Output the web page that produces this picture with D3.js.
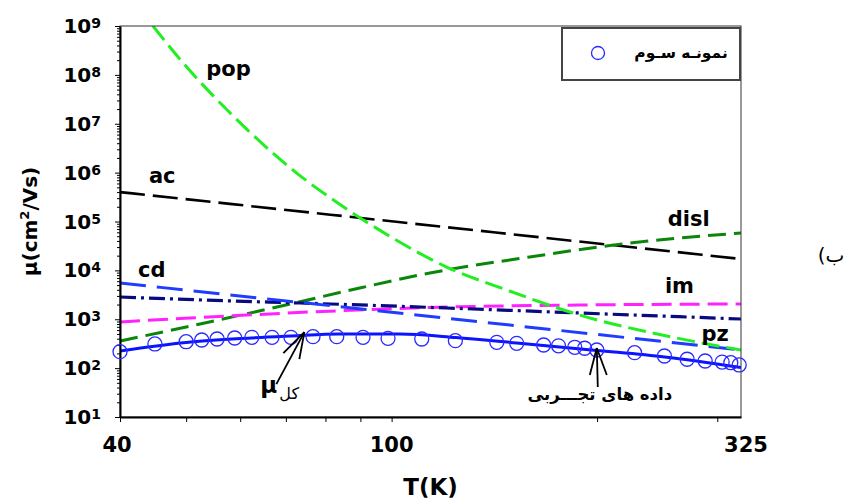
<!DOCTYPE html>
<html>
<head>
<meta charset="utf-8">
<script src="https://cdn.jsdelivr.net/npm/d3@7"></script>
<style>
body { margin: 0; background: #fff; }
svg { display: block; }
text { font-family: "DejaVu Sans", sans-serif; }
</style>
</head>
<body>
<script>
// mobility vs temperature, one series per scattering mechanism (cm^2/Vs)
var popT  = [44.7, 49.8, 58.0, 72.6, 83.4, 100.4, 120.4, 147.5, 188.6, 261.6, 325]
var popMu = [1e9, 1.59e8, 1.66e7, 9.8e5, 2.39e5, 4.59e4, 1.17e4, 3960, 1220, 413, 235]

var acT  = [40, 100, 325]
var acMu = [4.0e5, 1.01e5, 1.71e4]

var dislT  = [40, 52.4, 70, 89.8, 113.8, 159.4, 223.3, 325]
var dislMu = [359, 800, 1958, 4355, 8836, 18800, 36300, 58200]

var cdT  = [40, 100, 325]
var cdMu = [5520, 1387, 235]

var pzT  = [40, 58.6, 73.4, 120.4, 188.6, 325]
var pzMu = [2851, 2361, 2150, 1700, 1343, 1012]

var imT  = [40, 50.6, 63.5, 75.9, 113.8, 188.6, 325]
var imMu = [879, 1062, 1250, 1406, 1738, 1958, 2050]

var totT  = [40, 50, 60.2, 71.2, 83.9, 102.8, 124.2, 152.5, 199.8, 251.2, 325]
var totMu = [224, 334, 404, 454, 499, 499, 424, 327, 230, 169, 103]

// measured points (third sample)
var expT  = [40, 45, 50, 52.7, 55.5, 58.9, 62.4, 66.8, 71.2, 76.7, 83.1, 90.8, 98.8, 110.7, 124, 142.6, 152.5, 167, 175.6, 185.5, 191.8, 199.8, 227, 251, 271, 288, 305, 314, 323]
var expMu = [217, 312, 347, 376, 394, 413, 427, 427, 427, 440, 440, 427, 407, 394, 364, 337, 322, 297, 286, 267, 255, 235, 207, 177, 152, 140, 133, 129, 116]

// curve names and where they sit (T, mu)
var curveNames = ['pop', 'ac', 'cd', 'disl', 'im', 'pz']
var nameT  = [53.5, 44.1, 42.5, 253.9, 251.4, 284.4]
var nameMu = [9.5e7, 6.1e5, 7310, 8.09e4, 3440, 359]

var xTicks = [40, 50, 60, 70, 80, 90, 100, 200, 300]
var xLabels = [40, 100, 325]
var yExp = [1, 2, 3, 4, 5, 6, 7, 8, 9]

var W = 853, H = 502
var pL = 120, pR = 741, pT = 26, pB = 417

var x = d3.scaleLog().domain([40, 325]).range([pL, pR])
var y = d3.scaleLog().domain([10, 1e9]).range([pB, pT])

var svg = d3.select('body').append('svg').attr('width', W).attr('height', H)

var zip = (a, b) => a.map((v, i) => [v, b[i]])
var line = d3.line().x(d => x(d[0])).y(d => y(d[1])).curve(d3.curveMonotoneX)

var curves = [
	{pts: zip(acT, acMu),     color: '#000000', dash: '25,8',        w: 2.6},
	{pts: zip(dislT, dislMu), color: '#0a870a', dash: '18,8',        w: 3},
	{pts: zip(imT, imMu),     color: '#ff22ff', dash: '20,8',        w: 3},
	{pts: zip(pzT, pzMu),     color: '#0a0a80', dash: '16,5,3,5',    w: 3.2},
	{pts: zip(cdT, cdMu),     color: '#1f3cff', dash: '26,11',       w: 3},
	{pts: zip(popT, popMu),   color: '#22ee22', dash: '18,7',        w: 3},
	{pts: zip(totT, totMu),   color: '#0a14ff', dash: null,          w: 3}
]

svg.append('clipPath').attr('id', 'plotclip').append('rect')
	.attr('x', pL).attr('y', pT).attr('width', pR - pL).attr('height', pB - pT)

svg.append('g').attr('clip-path', 'url(#plotclip)')
	.selectAll('path').data(curves).enter().append('path')
	.attr('d', d => line(d.pts))
	.attr('fill', 'none')
	.attr('stroke', d => d.color)
	.attr('stroke-width', d => d.w)
	.attr('stroke-dasharray', d => d.dash)

// frame
svg.append('rect')
	.attr('x', pL).attr('y', pT).attr('width', pR - pL).attr('height', pB - pT)
	.attr('fill', 'none').attr('stroke', '#333').attr('stroke-width', 1)

// y axis: minor and major log ticks
var yMinor = []
for (var e = 1; e < 9; e++) for (var m = 2; m < 10; m++) yMinor.push(m * Math.pow(10, e))

svg.append('g').attr('transform', 'translate(' + pL + ',0)')
	.call(d3.axisLeft(y).tickValues(yMinor).tickSize(3).tickSizeOuter(0).tickFormat(''))
	.call(g => g.select('.domain').remove())

svg.append('g').attr('transform', 'translate(' + pL + ',0)')
	.call(d3.axisLeft(y).tickValues(yExp.map(d => Math.pow(10, d))).tickSize(5).tickSizeOuter(0).tickFormat(''))
	.call(g => g.select('.domain').attr('stroke-width', 2))

svg.selectAll('.ylab').data(yExp).enter().append('text')
	.attr('class', 'ylab')
	.attr('x', 101).attr('y', d => y(Math.pow(10, d)) + 7)
	.attr('text-anchor', 'end').attr('font-weight', 'bold').attr('font-size', 20)
	.each(function (d) {
		var t = d3.select(this)
		t.append('tspan').text('10')
		t.append('tspan').attr('font-size', 14).attr('dy', -5).text(d)
	})

// x axis
svg.append('g').attr('transform', 'translate(0,' + pB + ')')
	.call(d3.axisBottom(x).tickValues(xTicks).tickSize(5).tickSizeOuter(0).tickFormat(''))
	.call(g => g.select('.domain').attr('stroke-width', 2))

svg.selectAll('.xlab').data(xLabels).enter().append('text')
	.attr('class', 'xlab')
	.attr('x', d => x(d)).attr('y', 452)
	.attr('dx', (d, i) => i === xLabels.length - 1 ? 5 : (i === 0 ? -3 : 0))
	.attr('text-anchor', 'middle').attr('font-weight', 'bold').attr('font-size', 21)
	.text(d => d)

svg.append('text')
	.attr('x', (pL + pR) / 2).attr('y', 495)
	.attr('text-anchor', 'middle').attr('font-weight', 'bold').attr('font-size', 23)
	.text('T(K)')

var ytitle = svg.append('text')
	.attr('transform', 'translate(37,' + ((pT + pB) / 2) + ') rotate(-90)')
	.attr('text-anchor', 'middle').attr('font-weight', 'bold').attr('font-size', 20)
ytitle.append('tspan').text('\u03bc(cm')
ytitle.append('tspan').attr('font-size', 13).attr('dy', -8).text('2')
ytitle.append('tspan').attr('dy', 8).text('/Vs)')

// experimental points
svg.selectAll('.pt').data(zip(expT, expMu)).enter().append('circle')
	.attr('class', 'pt')
	.attr('cx', d => x(d[0])).attr('cy', d => y(d[1])).attr('r', 7)
	.attr('fill', 'none').attr('stroke', '#2a2aff').attr('stroke-width', 1.3)

// curve names
svg.selectAll('.cname').data(curveNames).enter().append('text')
	.attr('class', 'cname')
	.attr('x', (d, i) => x(nameT[i])).attr('y', (d, i) => y(nameMu[i]))
	.attr('font-weight', 'bold').attr('font-size', 21)
	.text(d => d)

// legend
var lg = svg.append('g')
lg.append('rect').attr('x', 562).attr('y', 28).attr('width', 178).attr('height', 52)
	.attr('fill', '#fff').attr('stroke', '#444').attr('stroke-width', 2)
lg.append('circle').attr('cx', 598).attr('cy', 53).attr('r', 6.5)
	.attr('fill', 'none').attr('stroke', '#2a2aff').attr('stroke-width', 1.3)
lg.append('text').attr('x', 681).attr('y', 58).attr('text-anchor', 'middle')
	.attr('font-weight', 'bold').attr('font-size', 15.5)
	.text('نمونـه سـوم')

// open arrow: shaft plus two barbs from the tip
function arrow(tx, ty, shaft, barbs) {
	var g = svg.append('g').attr('stroke', '#000').attr('stroke-width', 1.8).attr('fill', 'none')
	g.append('line').attr('x1', tx).attr('y1', ty).attr('x2', tx + shaft[0]).attr('y2', ty + shaft[1])
	barbs.forEach(b => {
		g.append('line').attr('x1', tx).attr('y1', ty).attr('x2', tx + b[0]).attr('y2', ty + b[1])
	})
}

var muTip = [x(74.5), y(545)]
arrow(muTip[0], muTip[1], [-28, 52], [[-21, 21], [-5, 27]])
var mu = svg.append('text').attr('x', muTip[0] - 44).attr('y', muTip[1] + 61)
mu.append('tspan').attr('font-weight', 'bold').attr('font-size', 23).text('\u03bc')
mu.append('tspan').attr('font-size', 16).attr('dx', 2).attr('dy', 6).text('کل')

var expTip = [x(199.8), y(258)]
arrow(expTip[0], expTip[1], [1, 39], [[-7, 27], [10, 27]])
svg.append('text').attr('x', expTip[0] + 3).attr('y', expTip[1] + 52)
	.attr('text-anchor', 'middle').attr('font-weight', 'bold').attr('font-size', 16.5)
	.text('داده های تجـــربی')

svg.append('text').attr('x', 831).attr('y', 262).attr('text-anchor', 'middle')
	.attr('direction', 'rtl').attr('unicode-bidi', 'embed')
	.attr('font-size', 20)
	.text('ب)')
</script>
</body>
</html>
